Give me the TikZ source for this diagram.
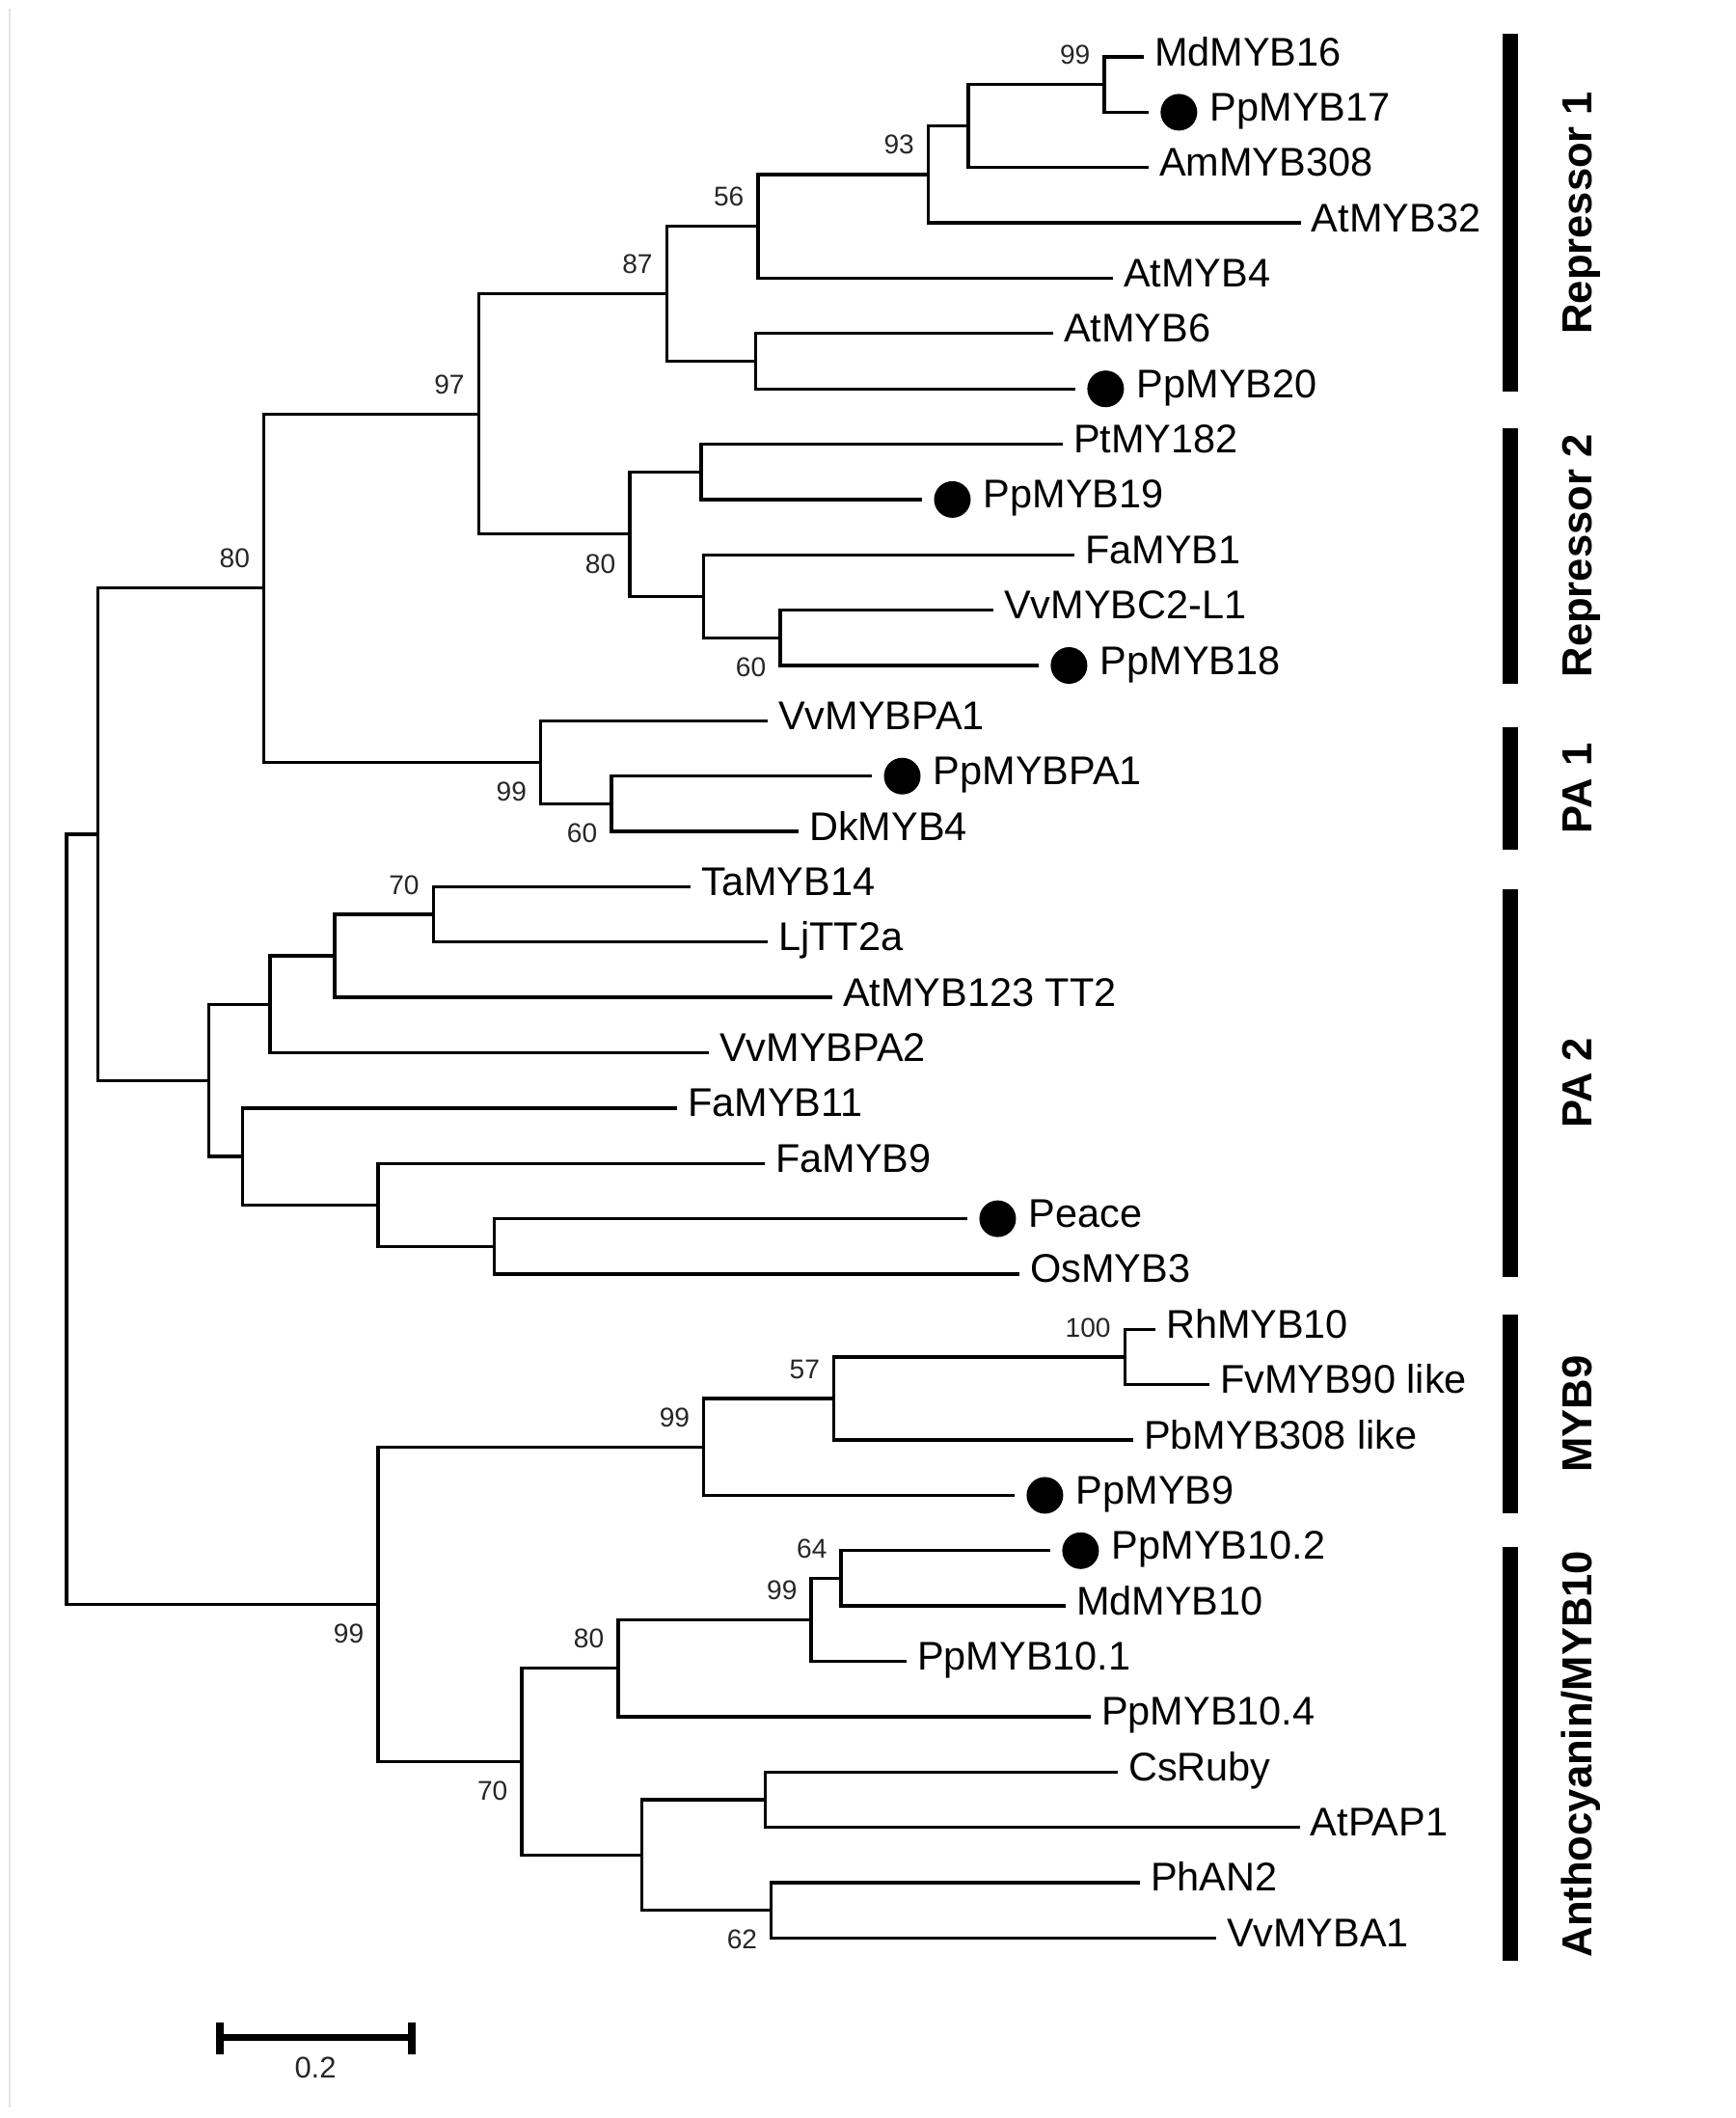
\documentclass[tikz,border=0pt]{standalone}
\usepackage{fontspec}
\setmainfont{Liberation Sans}
\tikzset{
	x=0.01cm, % one unit = one pixel of the figure
	y=-0.5736cm, % one unit = one row of the tree, counted downwards
	branch/.style={line width=0.95pt, line cap=rect}, % the edges of the tree
	leaf/.style={anchor=base west, inner sep=0pt, xshift=0.12cm, yshift=-0.09cm, font=\fontsize{11.8}{14}\selectfont}, % taxon names
	peach/.style={circle, fill=black, inner sep=0pt, minimum size=0.38cm}, % marks the peach genes
	bsabove/.style={anchor=south east, inner sep=0pt, xshift=-0.14cm, yshift=0.2cm, text=black!85, font=\fontsize{8}{9}\selectfont}, % bootstrap value over a node
	bsbelow/.style={anchor=north east, inner sep=0pt, xshift=-0.14cm, yshift=-0.2cm, text=black!85, font=\fontsize{8}{9}\selectfont}, % bootstrap value under a node
	cladebar/.style={line width=0.156cm, line cap=butt},
	cladelabel/.style={rotate=90, anchor=base, inner sep=0pt, font=\fontsize{12.4}{14}\selectfont\bfseries},
}
\newcommand{\leaf}[4]{%
	\coordinate (#1) at (#2,#3);
	\node[leaf] (#1-t) at (#1) {#4};
}
\newcommand{\dotleaf}[4]{%
	\coordinate (#1) at (#2,#3);
	\node[peach] (#1-d) at ([xshift=0.33cm]#1) {};
	\node[leaf] (#1-t) at (#1-d.east) {#4};
}

\begin{document}
\begin{tikzpicture}
	\useasboundingbox (0,-0.0286) rectangle (1800,38.255);
	\draw[gray!20, line width=0.6pt] (10,0.13) -- (10,38.06);

	% leaves
	\leaf{MdMYB16}{1185}{1}{MdMYB16}
	\dotleaf{PpMYB17}{1190}{2}{PpMYB17}
	\leaf{AmMYB308}{1190}{3}{AmMYB308}
	\leaf{AtMYB32}{1348}{4}{AtMYB32}
	\leaf{AtMYB4}{1153}{5}{AtMYB4}
	\leaf{AtMYB6}{1091}{6}{AtMYB6}
	\dotleaf{PpMYB20}{1114}{7}{PpMYB20}
	\leaf{PtMY182}{1101}{8}{PtMY182}
	\dotleaf{PpMYB19}{955}{9}{PpMYB19}
	\leaf{FaMYB1}{1113}{10}{FaMYB1}
	\leaf{VvMYBC2-L1}{1029}{11}{VvMYBC2-L1}
	\dotleaf{PpMYB18}{1076}{12}{PpMYB18}
	\leaf{VvMYBPA1}{795}{13}{VvMYBPA1}
	\dotleaf{PpMYBPA1}{903}{14}{PpMYBPA1}
	\leaf{DkMYB4}{827}{15}{DkMYB4}
	\leaf{TaMYB14}{715}{16}{TaMYB14}
	\leaf{LjTT2a}{795}{17}{LjTT2a}
	\leaf{AtMYB123}{862}{18}{AtMYB123 TT2}
	\leaf{VvMYBPA2}{734}{19}{VvMYBPA2}
	\leaf{FaMYB11}{701}{20}{FaMYB11}
	\leaf{FaMYB9}{792}{21}{FaMYB9}
	\dotleaf{Peace}{1002}{22}{Peace}
	\leaf{OsMYB3}{1056}{23}{OsMYB3}
	\leaf{RhMYB10}{1197}{24}{RhMYB10}
	\leaf{FvMYB90}{1253}{25}{FvMYB90 like}
	\leaf{PbMYB308}{1174}{26}{PbMYB308 like}
	\dotleaf{PpMYB9}{1051}{27}{PpMYB9}
	\dotleaf{PpMYB10-2}{1088}{28}{PpMYB10.2}
	\leaf{MdMYB10}{1104}{29}{MdMYB10}
	\leaf{PpMYB10-1}{939}{30}{PpMYB10.1}
	\leaf{PpMYB10-4}{1130}{31}{PpMYB10.4}
	\leaf{CsRuby}{1158}{32}{CsRuby}
	\leaf{AtPAP1}{1347}{33}{AtPAP1}
	\leaf{PhAN2}{1181}{34}{PhAN2}
	\leaf{VvMYBA1}{1260}{35}{VvMYBA1}

	% inner nodes, each halfway between its two children
	\coordinate (md) at (1145.7,1.5);
	\coordinate (am) at (1004.5,2.25);
	\coordinate (at32) at (963.1,3.125);
	\coordinate (at4) at (786.5,4.0625);
	\coordinate (at6) at (783.6,6.5);
	\coordinate (rep1) at (691.7,5.28125);
	\coordinate (pt) at (727.3,8.5);
	\coordinate (vv) at (809.4,11.5);
	\coordinate (fa) at (730.2,10.75);
	\coordinate (rep2) at (653.3,9.625);
	\coordinate (rep) at (496.6,7.453125);
	\coordinate (dk) at (634.3,14.5);
	\coordinate (pa1) at (560.9,13.75);
	\coordinate (reppa) at (273.8,10.6015625);
	\coordinate (ta) at (449.5,16.5);
	\coordinate (tt2) at (347.3,17.25);
	\coordinate (vpa2) at (280.1,18.125);
	\coordinate (os) at (512.6,22.5);
	\coordinate (fa9) at (392.1,21.75);
	\coordinate (fa11) at (251.4,20.875);
	\coordinate (pa2) at (216.4,19.5);
	\coordinate (upper) at (101.6,15.05078);
	\coordinate (rh) at (1166.9,24.5);
	\coordinate (pb) at (865.1,25.25);
	\coordinate (myb9) at (730.2,26.125);
	\coordinate (pp102) at (872.6,28.5);
	\coordinate (pp101) at (841.6,29.25);
	\coordinate (pp104) at (641.2,30.125);
	\coordinate (cs) at (793.9,32.5);
	\coordinate (ph) at (800.2,34.5);
	\coordinate (antho2) at (665.9,33.5);
	\coordinate (antho) at (541.3,31.8125);
	\coordinate (lower) at (392.1,28.96875);
	\coordinate (root) at (68.9,22.00977);

	% branches
	\foreach \p/\c in {md/MdMYB16, md/PpMYB17, am/md, am/AmMYB308, at32/am, at32/AtMYB32,
		at4/at32, at4/AtMYB4, at6/AtMYB6, at6/PpMYB20, rep1/at4, rep1/at6,
		pt/PtMY182, pt/PpMYB19, vv/VvMYBC2-L1, vv/PpMYB18, fa/FaMYB1, fa/vv,
		rep2/pt, rep2/fa, rep/rep1, rep/rep2, dk/PpMYBPA1, dk/DkMYB4,
		pa1/VvMYBPA1, pa1/dk, reppa/rep, reppa/pa1, ta/TaMYB14, ta/LjTT2a,
		tt2/ta, tt2/AtMYB123, vpa2/tt2, vpa2/VvMYBPA2, os/Peace, os/OsMYB3,
		fa9/FaMYB9, fa9/os, fa11/FaMYB11, fa11/fa9, pa2/vpa2, pa2/fa11,
		upper/reppa, upper/pa2, rh/RhMYB10, rh/FvMYB90, pb/rh, pb/PbMYB308,
		myb9/pb, myb9/PpMYB9, pp102/PpMYB10-2, pp102/MdMYB10, pp101/pp102,
		pp101/PpMYB10-1, pp104/pp101, pp104/PpMYB10-4, cs/CsRuby, cs/AtPAP1,
		ph/PhAN2, ph/VvMYBA1, antho2/cs, antho2/ph, antho/pp104, antho/antho2,
		lower/myb9, lower/antho, root/upper, root/lower}
		\draw[branch] (\p) |- (\c);

	% bootstrap values
	\foreach \n/\v in {md/99, at32/93, at4/56, rep1/87, rep/97, reppa/80, ta/70,
		rh/100, pb/57, myb9/99, pp102/64, pp101/99, pp104/80}
		\node[bsabove] (\n-bs) at (\n) {\v};
	\foreach \n/\v in {vv/60, rep2/80, dk/60, pa1/99, ph/62, antho/70, lower/99}
		\node[bsbelow] (\n-bs) at (\n) {\v};

	% clades
	\foreach \a/\b/\t/\n in {0.589/7.048/Repressor 1/rep1lab, 7.705/12.337/Repressor 2/rep2lab,
		13.12/15.324/PA 1/pa1lab, 16.04/23.05/PA 2/pa2lab,
		23.73/27.33/MYB9/myb9lab, 27.94/35.41/Anthocyanin\slash MYB10/antholab} {
		\draw[cladebar] (1567,\a) -- (1567,\b);
		\node[cladelabel] (\n) at (1651,{(\a+\b)/2}) {\t};
	}

	% scale
	\coordinate (sl) at (228.5,36.8);
	\coordinate (sr) at (427.7,36.8);
	\draw[line width=0.07cm] (sl) -- (sr);
	\draw[line width=0.08cm] ([yshift=0.153cm]sl) -- ([yshift=-0.17cm]sl);
	\draw[line width=0.08cm] ([yshift=0.153cm]sr) -- ([yshift=-0.17cm]sr);
	\node[font=\fontsize{8.8}{10}\selectfont, text=black!85] (scale) at (327.2,37.343) {0.2};
\end{tikzpicture}
\end{document}
